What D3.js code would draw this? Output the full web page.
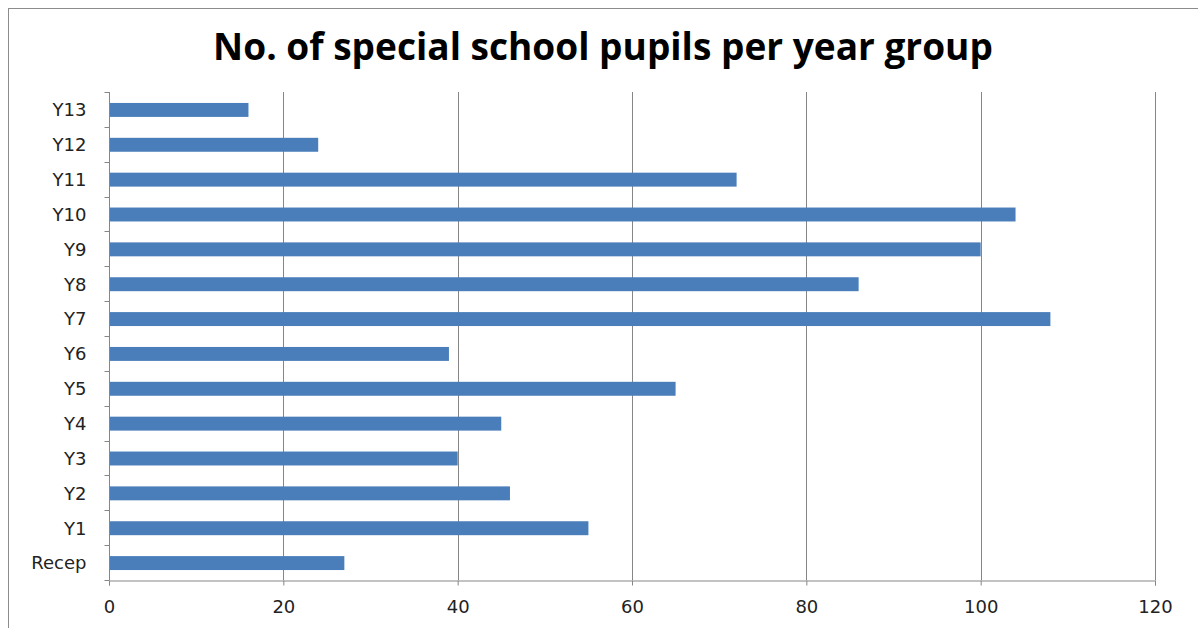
<!DOCTYPE html>
<html><head><meta charset="utf-8">
<script src="https://cdn.jsdelivr.net/npm/d3@7/dist/d3.min.js"></script>
<style>body{margin:0;background:#fff}</style>
</head><body><svg id="c" width="1198" height="628"></svg>
<script>
const categories = ["Y13","Y12","Y11","Y10","Y9","Y8","Y7","Y6","Y5","Y4","Y3","Y2","Y1","Recep"];
const values = [16,24,72,104,100,86,108,39,65,45,40,46,55,27];
const xTicks = [0,20,40,60,80,100,120];
const title = "No. of special school pupils per year group";

const svg = d3.select("#c");
svg.append("rect").attr("x",8.5).attr("y",8.5).attr("width",1400).attr("height",1000)
  .attr("fill","#fff").attr("stroke","#8c8c8c").attr("stroke-width",1);

const L=109, R=1155, T=92, B=580;
const x = d3.scaleLinear().domain([0,120]).range([L,R]);
const y = d3.scaleBand().domain(categories).range([T,B]).paddingInner(0.6).paddingOuter(0.3);

// gridlines
svg.append("g").selectAll("line").data(xTicks.slice(1)).join("line")
  .attr("x1",d=>Math.round(x(d))+0.5).attr("x2",d=>Math.round(x(d))+0.5)
  .attr("y1",T).attr("y2",B).attr("stroke","#868686").attr("stroke-width",1);

// bars
svg.append("g").selectAll("rect").data(categories).join("rect")
  .attr("x",x(0)).attr("y",(d)=>y(d)+0.5).attr("height",y.bandwidth())
  .attr("width",(d,i)=>x(values[i])-x(0)).attr("fill","#4a7ebb");

// x axis
const xa = svg.append("g").attr("transform",`translate(0,${B+0.5})`)
  .call(d3.axisBottom(x).tickValues(xTicks).tickSize(5).tickPadding(15));
xa.select(".domain").attr("stroke","#868686");
xa.selectAll(".tick line").attr("stroke","#868686");
xa.selectAll("text").attr("font-family","DejaVu Sans").attr("font-size",18).attr("fill","#222");

// y axis: ticks between categories
const ya = svg.append("g").attr("transform",`translate(${L+0.5},0)`);
ya.append("line").attr("y1",T).attr("y2",B).attr("stroke","#868686");
const step = (B-T)/categories.length;
ya.selectAll("line.t").data(d3.range(categories.length+1)).join("line").attr("class","t")
  .attr("x1",-5).attr("x2",0).attr("y1",i=>Math.round(T+i*step)+0.5).attr("y2",i=>Math.round(T+i*step)+0.5)
  .attr("stroke","#868686");
ya.selectAll("text").data(categories).join("text")
  .attr("x",-23).attr("y",d=>y(d)+y.bandwidth()/2+0.5).attr("dy","0.35em")
  .attr("text-anchor","end").attr("font-family","DejaVu Sans").attr("font-size",18).attr("fill","#222")
  .text(d=>d);

// title
const t = svg.append("text").attr("x",603).attr("y",60).attr("text-anchor","middle")
  .attr("font-family","Open Sans").attr("font-weight","bold").attr("font-size",30).attr("fill","#000").text(title);
const w = t.node().getComputedTextLength();
t.attr("font-size", 30*780/w);
</script></body></html>
